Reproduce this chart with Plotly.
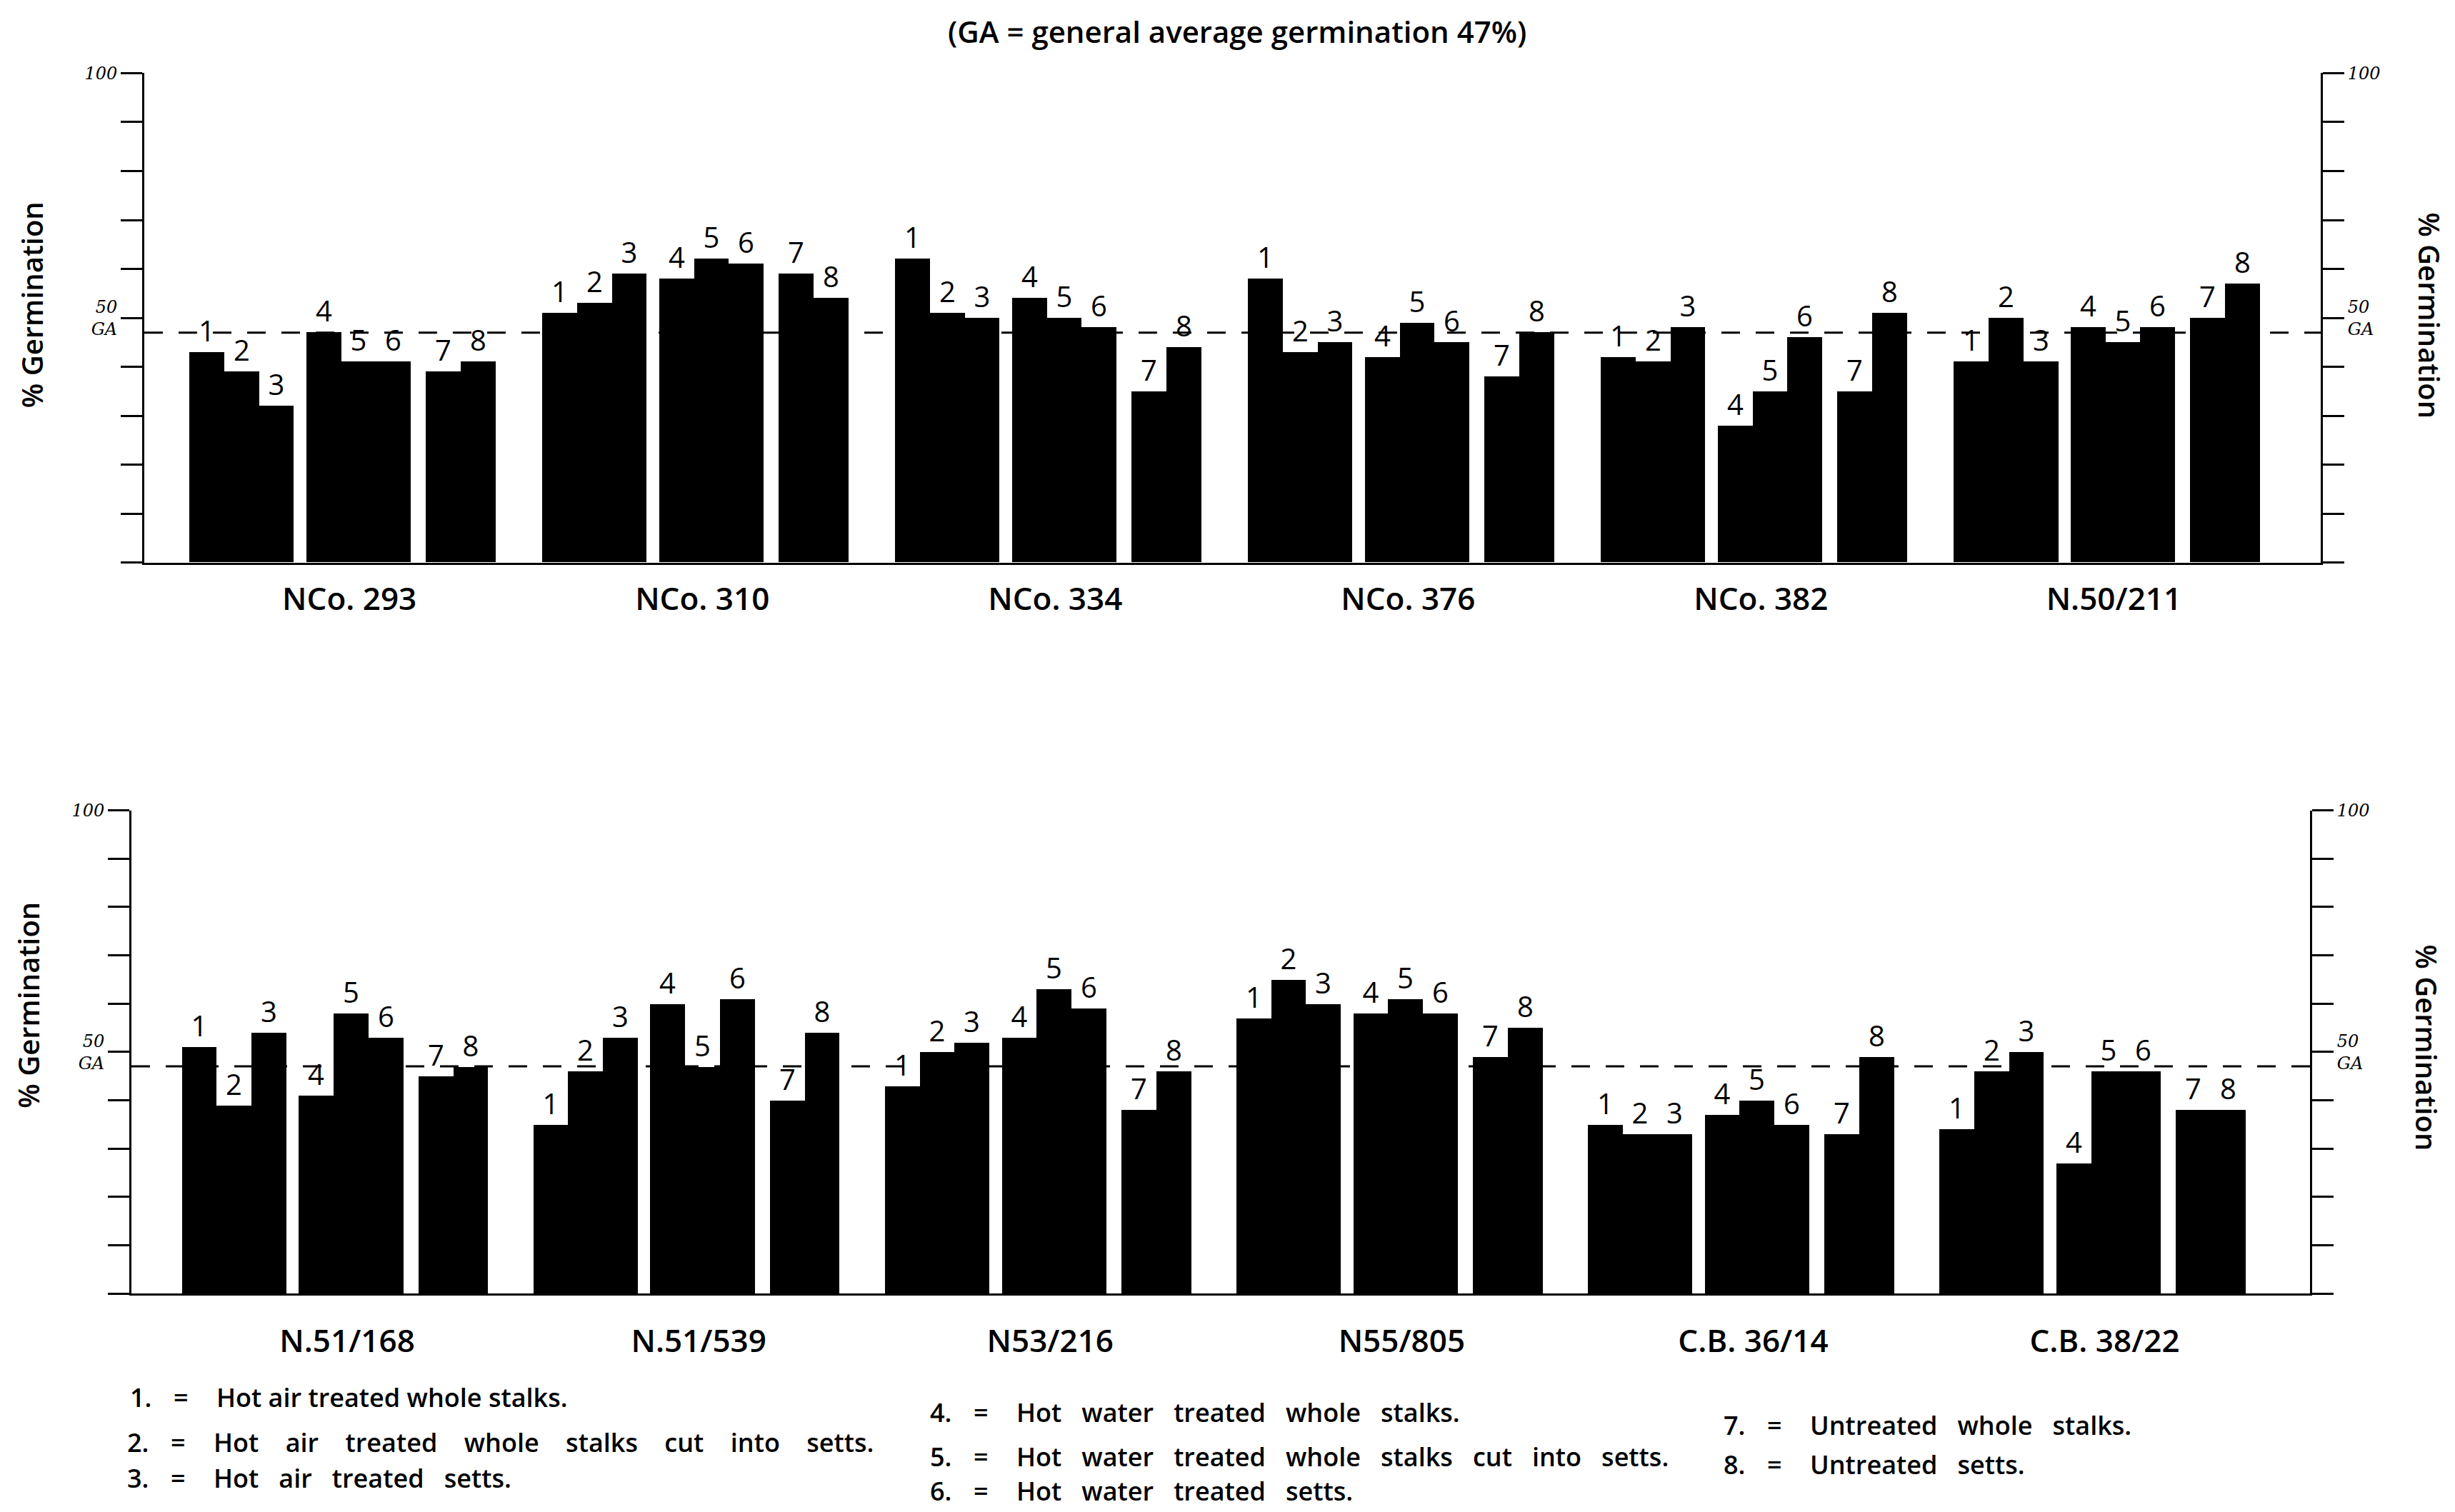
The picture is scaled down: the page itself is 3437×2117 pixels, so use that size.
import plotly.graph_objects as go

# ---- data: % germination per treatment (1..8) for each variety ----
GA = 47  # general average germination

top_varieties = ["NCo. 293", "NCo. 310", "NCo. 334", "NCo. 376", "NCo. 382", "N.50/211"]
nco_293 = [43, 39, 32, 47, 41, 41, 39, 41]
nco_310 = [51, 53, 59, 58, 62, 61, 59, 54]
nco_334 = [62, 51, 50, 54, 50, 48, 35, 44]
nco_376 = [58, 43, 45, 42, 49, 45, 38, 47]
nco_382 = [42, 41, 48, 28, 35, 46, 35, 51]
n_50_211 = [41, 50, 41, 48, 45, 48, 50, 57]
top_values = [nco_293, nco_310, nco_334, nco_376, nco_382, n_50_211]

bottom_varieties = ["N.51/168", "N.51/539", "N53/216", "N55/805", "C.B. 36/14", "C.B. 38/22"]
n_51_168 = [51, 39, 54, 41, 58, 53, 45, 47]
n_51_539 = [35, 46, 53, 60, 47, 61, 40, 54]
n_53_216 = [43, 50, 52, 53, 63, 59, 38, 46]
n_55_805 = [57, 65, 60, 58, 61, 58, 49, 55]
cb_36_14 = [35, 33, 33, 37, 40, 35, 33, 49]
cb_38_22 = [34, 46, 50, 27, 46, 46, 38, 38]
bottom_values = [n_51_168, n_51_539, n_53_216, n_55_805, cb_36_14, cb_38_22]

treatments = ["1", "2", "3", "4", "5", "6", "7", "8"]
treatment_names = [
    "Hot air treated whole stalks.",
    "Hot air treated whole stalks cut into setts.",
    "Hot air treated setts.",
    "Hot water treated whole stalks.",
    "Hot water treated whole stalks cut into setts.",
    "Hot water treated setts.",
    "Untreated whole stalks.",
    "Untreated setts.",
]

y_ticks = list(range(0, 101, 10))
y_ticktext = ["100" if v == 100 else ("50<br>GA" if v == 50 else "") for v in y_ticks]

# ---- layout helpers ----
W, H = 3437, 2117
FONT = "Open Sans"
X_MAX = 62.6
# left edge of each bar inside a group, in bar widths: 1-3 | 4-6 | 7-8
slot_left = [0, 1, 2, 3.36, 4.36, 5.36, 6.8, 7.8]
GROUP_W = 8.8


def px(x):
    return x / W


def py(y):
    return 1 - y / H


def panel_positions(first, pitch, n_groups):
    xs, centers = [], []
    for g in range(n_groups):
        start = first + g * pitch
        xs.extend(start + s + 0.5 for s in slot_left)
        centers.append(start + GROUP_W / 2)
    return xs, centers


fig = go.Figure()

panels = [
    # (varieties, values, xaxis, yaxis, right yaxis, first, pitch, label shift)
    (top_varieties, top_values, "x", "y", "y3", 1.3, 10.15, 0.2),
    (bottom_varieties, bottom_values, "x2", "y2", "y4", 1.45, 10.1, 0.35),
]

tick_positions = {}
for names, values, xa, ya, yr, first, pitch, shift in panels:
    xs, centers = panel_positions(first, pitch, len(names))
    ys = [v for group in values for v in group]
    labels = treatments * len(names)
    fig.add_trace(go.Bar(
        x=xs, y=ys, width=1.0, xaxis=xa, yaxis=ya,
        marker=dict(color="black", line=dict(width=0)),
        text=labels, textposition="outside", cliponaxis=False,
        textfont=dict(family=FONT, size=40, color="black"),
        showlegend=False, hoverinfo="x+y",
    ))
    # carrier for the right-hand scale
    fig.add_trace(go.Scatter(
        x=[xs[0]], y=[ys[0]], xaxis=xa, yaxis=yr, mode="markers",
        marker=dict(opacity=0), showlegend=False, hoverinfo="skip",
    ))
    # general average line
    fig.add_shape(type="line", xref=xa, yref=ya, x0=0, x1=X_MAX, y0=GA, y1=GA,
                  line=dict(color="black", width=3, dash="26px,22px"), layer="below")
    tick_positions[xa] = ([c + shift for c in centers], names)

axis_line = dict(showline=True, linecolor="black", linewidth=3, showgrid=False,
                 zeroline=False)
x_common = dict(**axis_line, range=[0, X_MAX], ticks="outside",
                tickcolor="rgba(0,0,0,0)",
                tickfont=dict(family=FONT, size=44, color="black", weight=600))
y_common = dict(**axis_line, range=[0, 100], tickvals=y_ticks, ticktext=y_ticktext,
                ticks="outside", ticklen=30, tickwidth=3, tickcolor="black",
                tickfont=dict(family="DejaVu Serif", size=24, color="black", style="italic"))

top_dom = [py(779), py(89)]
bot_dom = [py(1809), py(1128)]

fig.update_layout(
    width=W, height=H, autosize=False,
    margin=dict(l=0, r=0, t=0, b=0),
    paper_bgcolor="white", plot_bgcolor="white",
    bargap=0,
    xaxis=dict(**x_common, domain=[px(202), px(3249)], anchor="y", ticklen=10,
               tickvals=tick_positions["x"][0], ticktext=tick_positions["x"][1]),
    yaxis=dict(**y_common, domain=top_dom, anchor="x", side="left"),
    yaxis3=dict(**y_common, overlaying="y", anchor="x", side="right"),
    xaxis2=dict(**x_common, domain=[px(184), px(3234)], anchor="y2", ticklen=26,
                tickvals=tick_positions["x2"][0], ticktext=tick_positions["x2"][1]),
    yaxis2=dict(**y_common, domain=bot_dom, anchor="x2", side="left"),
    yaxis4=dict(**y_common, overlaying="y2", anchor="x2", side="right"),
)

ann = []
ann.append(dict(text="(GA = general average germination 47%)", x=px(1732), y=py(30),
                xref="paper", yref="paper", showarrow=False,
                xanchor="center", yanchor="middle",
                font=dict(family=FONT, size=42, color="black", weight=600)))
for (x, y, ang) in [(44, 416, -90), (3402, 430, 90), (40, 1403, -90), (3398, 1462, 90)]:
    ann.append(dict(text="% Germination", x=px(x), y=py(y), xref="paper", yref="paper",
                    showarrow=False, textangle=ang, xanchor="center", yanchor="middle",
                    font=dict(family=FONT, size=40, color="black", weight=600)))

# key: number, "=" sign and description each start at their own column
legend_rows = [(180, 1955), (176, 2019), (176, 2069),
               (1300, 1977), (1300, 2039), (1300, 2087),
               (2411, 1995), (2411, 2050)]
word_gap = [1, 4, 3, 3, 3, 3, 3, 3]
key_font = dict(family=FONT, size=36, color="black", weight=600)
for t, name, (x, y), gap in zip(treatments, treatment_names, legend_rows, word_gap):
    desc = ("\u00a0" * gap).join(name.split(" "))
    for text, dx in [(f"{t}.", 0), ("=", 61), (desc, 121)]:
        ann.append(dict(text=text, x=px(x + dx), y=py(y), xref="paper", yref="paper",
                        xanchor="left", yanchor="middle", showarrow=False, font=key_font))
fig.update_layout(annotations=ann)

fig.write_html("out.html")
